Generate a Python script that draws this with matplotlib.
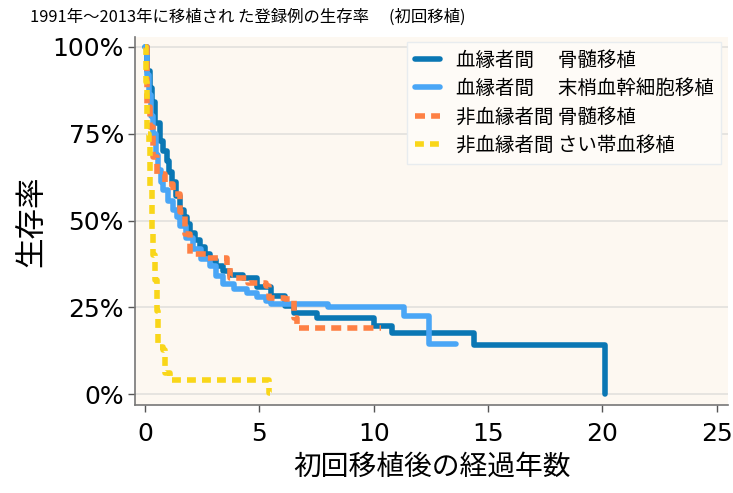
import matplotlib.pyplot as plt

plt.rcParams['font.family'] = ['Noto Sans CJK JP', 'DejaVu Sans']

# 血縁者間 骨髄移植
t_rbm = [0, 0.1, 0.2, 0.29, 0.45, 0.66, 0.8, 0.95, 1.05, 1.17, 1.35, 1.54, 1.7, 1.83, 1.97, 2.2, 2.4,
         2.6, 2.85, 3.1, 3.4, 3.73, 4.3, 4.9, 5.5, 6.1, 6.5, 7.5, 10.0, 10.8, 14.4, 20.1]
s_rbm = [100, 93, 88, 84, 78, 73, 70, 67, 64, 61, 57, 53, 51, 49, 46.5, 44.5, 42.5,
         40.5, 38.7, 37, 35.5, 34.4, 33.4, 31, 28.2, 25.3, 23.4, 21.8, 19.5, 17.5, 14.1, 0]

# 血縁者間 末梢血幹細胞移植
t_rpb = [0, 0.08, 0.15, 0.25, 0.36, 0.47, 0.58, 0.7, 0.8, 1.0, 1.2, 1.39, 1.54, 1.8, 2.1, 2.45,
         2.85, 3.1, 3.4, 3.9, 4.46, 4.9, 5.3, 5.5, 8.0, 11.3, 12.4, 13.6]
s_rpb = [100, 92, 86, 80, 75, 69, 64.5, 61, 58.8, 55.5, 53, 51, 48.4, 45, 41.7, 39,
         36.9, 34, 31.6, 30.2, 29.2, 28, 26.8, 26.1, 25, 22.5, 14.6, 14.6]

# 非血縁者間 骨髄移植
t_ubm = [0, 0.07, 0.22, 0.36, 0.51, 0.88, 1.24, 1.54, 1.75, 1.97, 2.7, 3.58, 3.73, 4.5, 5.3,
         5.4, 6.1, 6.5, 6.65, 10.3]
s_ubm = [100, 82.7, 77, 68.3, 63.5, 60.6, 57.7, 52.4, 46, 40.3, 39.3, 36.9, 33.5, 32, 31.1,
         27.7, 27.4, 21.8, 19.1, 19.1]

# 非血縁者間 さい帯血移植
t_ucb = [0, 0.04, 0.07, 0.1, 0.15, 0.22, 0.29, 0.36, 0.44, 0.5, 0.58, 0.8, 0.88, 1.1, 5.4, 5.45]
s_ucb = [100, 90, 79, 75, 71.5, 60, 47.5, 40, 33, 24, 13.7, 12.8, 6, 4, 0.4, 0.4]

labels = ['血縁者間　 骨髄移植', '血縁者間　 末梢血幹細胞移植',
          '非血縁者間 骨髄移植', '非血縁者間 さい帯血移植']
colors = ['#0a77b4', '#4aa6f6', '#fe8044', '#f9d619']

fig = plt.figure(figsize=(7.33, 4.93), dpi=100)
ax = fig.add_axes([0.1842, 0.1785, 0.809, 0.747])
ax.set_facecolor('#fdf8f1')

ax.plot(t_rbm, s_rbm, drawstyle='steps-post', color=colors[0], lw=4, label=labels[0],
        solid_joinstyle='round', solid_capstyle='round', zorder=3)
ax.plot(t_rpb, s_rpb, drawstyle='steps-post', color=colors[1], lw=4, label=labels[1],
        solid_joinstyle='round', solid_capstyle='round', zorder=3)
ax.plot(t_ubm, s_ubm, drawstyle='steps-post', color=colors[2], lw=4, label=labels[2],
        dashes=(1.8, 1.1), zorder=4)
ax.plot(t_ucb, s_ucb, drawstyle='steps-post', color=colors[3], lw=4, label=labels[3],
        dashes=(1.6, 1.1), zorder=5)

ax.set_xlim(-0.44, 25.49)
ax.set_ylim(-3.1, 102.9)
ax.set_xticks([0, 5, 10, 15, 20, 25])
ax.set_yticks([0, 25, 50, 75, 100])
ax.set_yticklabels(['0%', '25%', '50%', '75%', '100%'])
ax.yaxis.grid(True, color='#e2e0dd', lw=1.2)
ax.set_axisbelow(True)

for side in ['top', 'right']:
    ax.spines[side].set_visible(False)
for side in ['left', 'bottom']:
    ax.spines[side].set_color('#777777')
    ax.spines[side].set_linewidth(1.2)
ax.tick_params(colors='#555555', length=5, width=1, labelcolor='black')
ax.tick_params(axis='x', labelsize=18, pad=7)
ax.tick_params(axis='y', labelsize=18, pad=3)
for lab in ax.get_xticklabels() + ax.get_yticklabels():
    lab.set_family(['DejaVu Sans'])

ax.set_xlabel('初回移植後の経過年数', fontsize=20, labelpad=4)
ax.set_ylabel('生存率', fontsize=22, labelpad=4)

fig.text(0.041, 0.965, '1991年～2013年に移植され た登録例の生存率　 (初回移植)',
         fontsize=11.8, va='center', ha='left')

leg = ax.legend(loc='upper right', bbox_to_anchor=(0.989, 0.986), borderaxespad=0,
                fontsize=14, handlelength=1.3, handletextpad=0.8, labelspacing=0.38,
                borderpad=0.4, fancybox=False, framealpha=1)
leg.get_frame().set_facecolor('#fefbf7')
leg.get_frame().set_edgecolor('#e8ecef')
leg.get_frame().set_linewidth(1)

plt.savefig('out.png', dpi=100, facecolor='white')
